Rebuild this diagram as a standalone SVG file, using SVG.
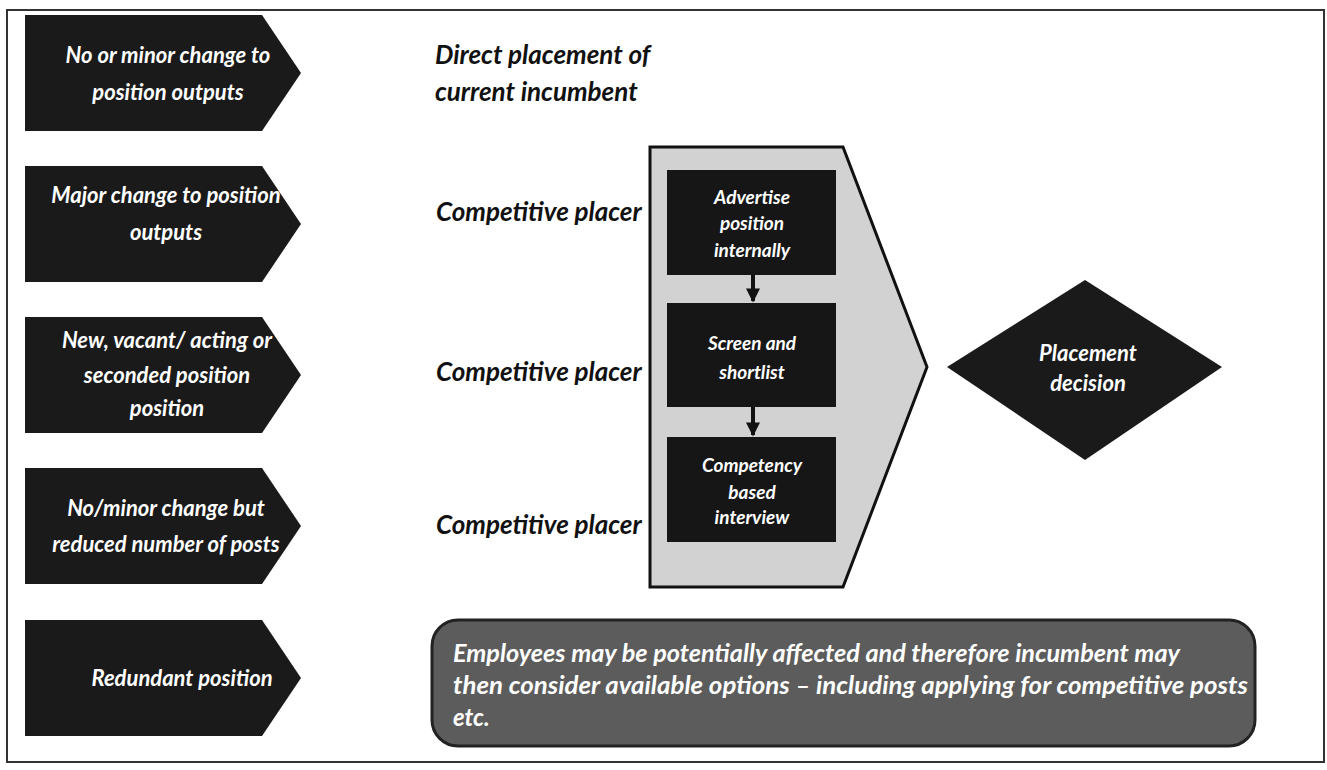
<svg xmlns="http://www.w3.org/2000/svg" width="1327" height="770" viewBox="0 0 1327 770">
<style>
.chev{fill:#1a1a1a;}
.wt{fill:#ffffff;font-family:Lato,'Open Sans',sans-serif;font-weight:bold;font-style:italic;font-size:22px;text-anchor:middle;}
.bt{fill:#111111;font-family:Lato,'Open Sans',sans-serif;font-weight:bold;font-style:italic;font-size:26px;}
.sm{fill:#ffffff;font-family:Lato,'Open Sans',sans-serif;font-weight:bold;font-style:italic;font-size:19px;text-anchor:middle;}
.nt{fill:#ffffff;font-family:Lato,'Open Sans',sans-serif;font-weight:bold;font-style:italic;font-size:24px;}
.box{fill:#161616;}
.conn{stroke:#111;stroke-width:4;fill:none;}
</style>
<defs>
<marker id="ah" viewBox="0 0 10 10" refX="9" refY="5" markerWidth="4" markerHeight="3.5" orient="auto" markerUnits="strokeWidth">
<path d="M0,0 L10,5 L0,10 z" fill="#111"/>
</marker>
</defs>
<rect x="7" y="10" width="1317" height="752" fill="#ffffff" stroke="#333" stroke-width="2"/>

<g id="row1">
<polygon class="chev" points="25,15 262,15 301,73 262,131 25,131"/>
<text class="wt" x="168" y="63">No or minor change to</text>
<text class="wt" x="168" y="100">position outputs</text>
</g>
<g id="row2">
<polygon class="chev" points="25,166 262,166 301,224 262,282 25,282"/>
<text class="wt" x="166" y="203">Major change to position</text>
<text class="wt" x="166" y="240">outputs</text>
</g>
<g id="row3">
<polygon class="chev" points="25,317 262,317 301,375 262,433 25,433"/>
<text class="wt" x="167" y="348">New, vacant/ acting or</text>
<text class="wt" x="167" y="383">seconded position</text>
<text class="wt" x="167" y="416">position</text>
</g>
<g id="row4">
<polygon class="chev" points="25,468 262,468 301,526 262,584 25,584"/>
<text class="wt" x="166" y="516">No/minor change but</text>
<text class="wt" x="166" y="552">reduced number of posts</text>
</g>
<g id="row5">
<polygon class="chev" points="25,620 262,620 301,678 262,736 25,736"/>
<text class="wt" x="182" y="686">Redundant position</text>
</g>

<g id="label1">
<text class="bt" x="435" y="64">Direct placement of</text>
<text class="bt" x="435" y="101">current incumbent</text>
</g>
<g id="label2"><text class="bt" x="436" y="221">Competitive placer</text></g>
<g id="label3"><text class="bt" x="436" y="381">Competitive placer</text></g>
<g id="label4"><text class="bt" x="436" y="534">Competitive placer</text></g>

<g id="panel">
<polygon points="650,147 843,147 927,367 843,587 650,587" fill="#d2d2d2" stroke="#111" stroke-width="3"/>
</g>
<g id="advertise">
<rect class="box" x="667" y="170" width="169" height="105"/>
<text class="sm" x="752" y="204">Advertise</text>
<text class="sm" x="752" y="230">position</text>
<text class="sm" x="752" y="257">internally</text>
</g>
<g id="screen">
<rect class="box" x="667" y="303" width="169" height="104"/>
<text class="sm" x="752" y="350">Screen and</text>
<text class="sm" x="752" y="379">shortlist</text>
</g>
<g id="interview">
<rect class="box" x="667" y="437" width="169" height="105"/>
<text class="sm" x="752" y="472">Competency</text>
<text class="sm" x="752" y="499">based</text>
<text class="sm" x="752" y="524">interview</text>
</g>

<g id="connectors">
<line class="conn" x1="753" y1="275" x2="753" y2="301" marker-end="url(#ah)"/>
<line class="conn" x1="753" y1="407" x2="753" y2="435" marker-end="url(#ah)"/>
</g>

<g id="decision">
<polygon points="947,367 1085,280 1222,367 1085,460" fill="#1a1a1a"/>
<text class="wt" x="1088" y="361">Placement</text>
<text class="wt" x="1088" y="391">decision</text>
</g>

<g id="note">
<rect x="432" y="620" width="823" height="126" rx="26" fill="#5c5c5c" stroke="#222" stroke-width="3"/>
<text class="nt" x="453" y="662" textLength="727" lengthAdjust="spacingAndGlyphs">Employees may be potentially affected and therefore incumbent may</text>
<text class="nt" x="453" y="694" textLength="795" lengthAdjust="spacingAndGlyphs">then consider available options – including applying for competitive posts</text>
<text class="nt" x="453" y="726">etc.</text>
</g>
</svg>
